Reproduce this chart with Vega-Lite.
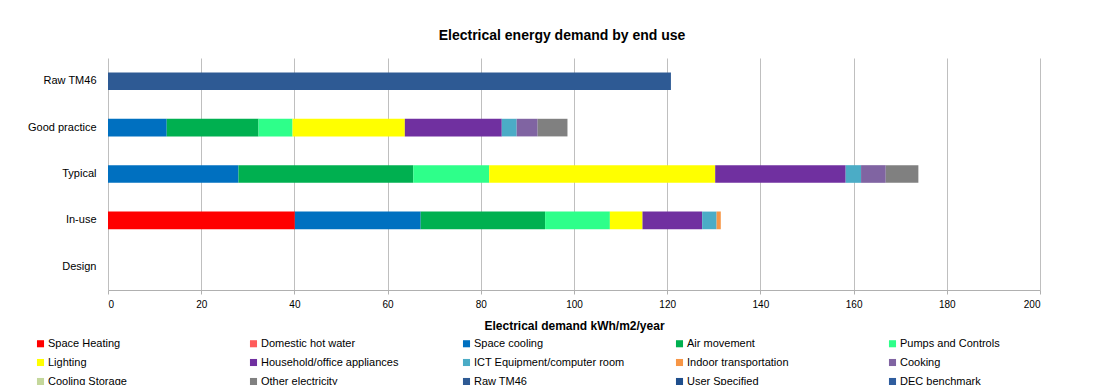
{
  "$schema": "https://vega.github.io/schema/vega-lite/v6.json",
  "width": 932,
  "height": 232,
  "autosize": {"type": "none"},
  "padding": {"left": 108, "top": 58, "right": 63, "bottom": 95},
  "background": "white",
  "title": {
    "text": "Electrical energy demand by end use",
    "font": "Liberation Sans",
    "fontSize": 14,
    "fontWeight": "bold",
    "color": "#000000",
    "anchor": "middle",
    "dx": -12,
    "offset": 15
  },
  "data": {
    "values": [
      {"case": "Raw TM46", "use": "Raw TM46", "value": 120.8, "ord": 13},
      {"case": "Good practice", "use": "Space cooling", "value": 12.6, "ord": 3},
      {"case": "Good practice", "use": "Air movement", "value": 19.7, "ord": 4},
      {"case": "Good practice", "use": "Pumps and Controls", "value": 7.3, "ord": 5},
      {"case": "Good practice", "use": "Lighting", "value": 24.1, "ord": 6},
      {"case": "Good practice", "use": "Household/office appliances", "value": 20.8, "ord": 7},
      {"case": "Good practice", "use": "ICT Equipment/computer  room", "value": 3.2, "ord": 8},
      {"case": "Good practice", "use": "Cooking", "value": 4.5, "ord": 10},
      {"case": "Good practice", "use": "Other electricity", "value": 6.4, "ord": 12},
      {"case": "Typical", "use": "Space cooling", "value": 28.0, "ord": 3},
      {"case": "Typical", "use": "Air movement", "value": 37.5, "ord": 4},
      {"case": "Typical", "use": "Pumps and Controls", "value": 16.3, "ord": 5},
      {"case": "Typical", "use": "Lighting", "value": 48.5, "ord": 6},
      {"case": "Typical", "use": "Household/office appliances", "value": 28.0, "ord": 7},
      {"case": "Typical", "use": "ICT Equipment/computer  room", "value": 3.3, "ord": 8},
      {"case": "Typical", "use": "Cooking", "value": 5.3, "ord": 10},
      {"case": "Typical", "use": "Other electricity", "value": 7.0, "ord": 12},
      {"case": "In-use", "use": "Space Heating", "value": 40.1, "ord": 1},
      {"case": "In-use", "use": "Space cooling", "value": 27.0, "ord": 3},
      {"case": "In-use", "use": "Air movement", "value": 26.7, "ord": 4},
      {"case": "In-use", "use": "Pumps and Controls", "value": 13.9, "ord": 5},
      {"case": "In-use", "use": "Lighting", "value": 7.0, "ord": 6},
      {"case": "In-use", "use": "Household/office appliances", "value": 12.8, "ord": 7},
      {"case": "In-use", "use": "ICT Equipment/computer  room", "value": 3.1, "ord": 8},
      {"case": "In-use", "use": "Indoor transportation", "value": 0.9, "ord": 9},
      {"case": "Design", "use": "Space Heating", "value": 0, "ord": 1}
    ]
  },
  "mark": {"type": "bar"},
  "encoding": {
    "y": {
      "field": "case",
      "type": "nominal",
      "sort": ["Raw TM46", "Good practice", "Typical", "In-use", "Design"],
      "scale": {"paddingInner": 0.62, "paddingOuter": 0.31},
      "axis": {
        "title": null,
        "domain": false,
        "ticks": false,
        "grid": false,
        "labelFont": "Liberation Sans",
        "labelFontSize": 11,
        "labelColor": "#000000",
        "labelPadding": 12
      }
    },
    "x": {
      "field": "value",
      "type": "quantitative",
      "stack": "zero",
      "scale": {"domain": [0, 200], "nice": false},
      "axis": {
        "values": [0, 20, 40, 60, 80, 100, 120, 140, 160, 180, 200],
        "title": "Electrical demand kWh/m2/year",
        "titleFont": "Liberation Sans",
        "titleFontSize": 12,
        "titleFontWeight": "bold",
        "titleColor": "#000000",
        "titlePadding": 11,
        "labelFont": "Liberation Sans",
        "labelFontSize": 10,
        "labelColor": "#000000",
        "labelPadding": 5,
        "domainColor": "#B0B0B0",
        "tickColor": "#B0B0B0",
        "tickSize": 4,
        "gridColor": "#BFBFBF",
        "gridWidth": 1
      }
    },
    "color": {
      "field": "use",
      "type": "nominal",
      "scale": {
        "domain": ["Space Heating", "Domestic hot water", "Space cooling", "Air movement", "Pumps and Controls", "Lighting", "Household/office appliances", "ICT Equipment/computer  room", "Indoor transportation", "Cooking", "Cooling Storage", "Other electricity", "Raw TM46", "User Specified", "DEC benchmark"],
        "range": ["#FF0000", "#FF5B5B", "#0070C0", "#00B050", "#2EFF8A", "#FFFF00", "#7030A0", "#4BACC6", "#F79646", "#8064A2", "#C4D79B", "#808080", "#2E5A94", "#1F4E8C", "#2F5D9E"]
      },
      "legend": {
        "orient": "none",
        "legendX": -73,
        "legendY": 280,
        "title": null,
        "direction": "horizontal",
        "columns": 5,
        "gridAlign": "all",
        "columnPadding": 46,
        "rowPadding": 7,
        "symbolType": "square",
        "symbolSize": 50,
        "symbolStrokeWidth": 0,
        "symbolOffset": 0,
        "labelOffset": 2,
        "labelFont": "Liberation Sans",
        "labelFontSize": 11,
        "labelColor": "#000000",
        "labelLimit": 200
      }
    },
    "order": {"field": "ord", "type": "quantitative"}
  },
  "config": {
    "view": {"stroke": null},
    "axis": {"labelFont": "Liberation Sans"}
  }
}
